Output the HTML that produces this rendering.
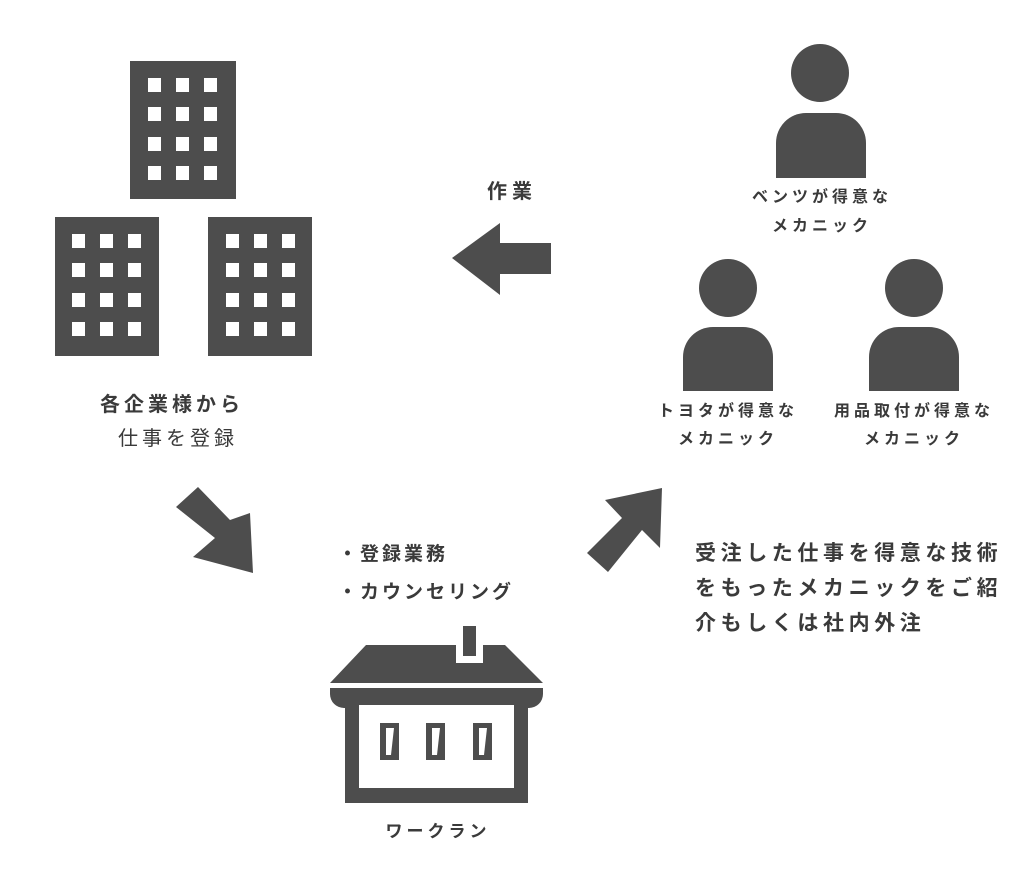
<!DOCTYPE html>
<html><head><meta charset="utf-8"><style>
body{margin:0;width:1030px;height:869px;background:#fff;position:relative;overflow:hidden;font-family:"Liberation Sans","Noto Sans CJK JP",sans-serif;color:#3a3a3a}
.t{position:absolute;white-space:nowrap;font-weight:bold;line-height:1}
.c{transform:translateX(-50%);text-align:center}
</style></head><body>
<svg width="1030" height="869" style="position:absolute;left:0;top:0">
<defs>
<g id="w"><rect fill="#fff" x="0" y="0" width="13" height="14"/><rect fill="#fff" x="28" y="0" width="13" height="14"/><rect fill="#fff" x="56" y="0" width="13" height="14"/>
<rect fill="#fff" x="0" y="29" width="13" height="14"/><rect fill="#fff" x="28" y="29" width="13" height="14"/><rect fill="#fff" x="56" y="29" width="13" height="14"/>
<rect fill="#fff" x="0" y="59" width="13" height="14"/><rect fill="#fff" x="28" y="59" width="13" height="14"/><rect fill="#fff" x="56" y="59" width="13" height="14"/>
<rect fill="#fff" x="0" y="88" width="13" height="14"/><rect fill="#fff" x="28" y="88" width="13" height="14"/><rect fill="#fff" x="56" y="88" width="13" height="14"/></g>
</defs>
<g fill="#4d4d4d">
<rect x="130" y="61" width="106" height="138"/>
<rect x="55" y="217" width="104" height="139"/>
<rect x="208" y="217" width="104" height="139"/>
</g>
<use href="#w" x="148" y="78"/>
<use href="#w" x="72" y="234"/>
<use href="#w" x="226" y="234"/>
<g fill="#4d4d4d">
<polygon points="452,258 500,223 500,243 551,243 551,274 500,274 500,295"/>
<polygon points="176,507 198,487 230,520 250,513 253,573 193,557 215,538"/>
<polygon points="605,500 662,488 660,548 642,530 608,572 587,553 622,518"/>
<circle cx="820" cy="73" r="29"/>
<path d="M776,178 V143 a30,30 0 0 1 30,-30 h30 a30,30 0 0 1 30,30 V178 z"/>
<circle cx="728" cy="288" r="29"/>
<path d="M683,391 V357 a30,30 0 0 1 30,-30 h30 a30,30 0 0 1 30,30 V391 z"/>
<circle cx="914" cy="288" r="29"/>
<path d="M869,391 V357 a30,30 0 0 1 30,-30 h30 a30,30 0 0 1 30,30 V391 z"/>
<polygon points="366,645 505,645 543,683 330,683"/>
<path d="M330,688 h213 v6 a14,14 0 0 1 -14,14 h-1 v95 h-183 v-95 h-1 a14,14 0 0 1 -14,-14 z"/>
</g>
<rect x="456" y="644" width="27" height="19" fill="#fff"/>
<rect x="463" y="626" width="13" height="30" fill="#4d4d4d"/>
<rect x="359" y="705" width="155" height="83" fill="#fff"/>
<g fill="#4d4d4d">
<rect x="380" y="723" width="19" height="37"/><rect x="426" y="723" width="19" height="37"/><rect x="473" y="723" width="19" height="37"/>
</g>
<g fill="#fff">
<polygon points="386,728 394,728 391,755 386,755"/>
<polygon points="432,728 440,728 437,755 432,755"/>
<polygon points="479,728 487,728 484,755 479,755"/>
</g>
</svg>
<div class="t c" style="left:512px;top:182px;font-size:20px;letter-spacing:5px">作業</div>
<div class="t" style="left:100px;top:395px;font-size:20px;letter-spacing:4px">各企業様から</div>
<div class="t" style="left:118px;top:429px;font-size:20px;letter-spacing:4px;font-weight:normal">仕事を登録</div>
<div class="t c" style="left:822px;top:190px;font-size:16px;letter-spacing:4px">ベンツが得意な</div>
<div class="t c" style="left:822px;top:219px;font-size:16px;letter-spacing:4px">メカニック</div>
<div class="t c" style="left:728px;top:404px;font-size:16px;letter-spacing:4px">トヨタが得意な</div>
<div class="t c" style="left:728px;top:432px;font-size:16px;letter-spacing:4px">メカニック</div>
<div class="t c" style="left:914px;top:404px;font-size:16px;letter-spacing:4px">用品取付が得意な</div>
<div class="t c" style="left:914px;top:432px;font-size:16px;letter-spacing:4px">メカニック</div>
<div class="t" style="left:338px;top:545px;font-size:19px;letter-spacing:3px">・登録業務</div>
<div class="t" style="left:338px;top:583px;font-size:19px;letter-spacing:3px">・カウンセリング</div>
<div class="t" style="left:695px;top:543px;font-size:21px;letter-spacing:4.6px">受注した仕事を得意な技術</div>
<div class="t" style="left:695px;top:578px;font-size:21px;letter-spacing:4.6px">をもったメカニックをご紹</div>
<div class="t" style="left:695px;top:613px;font-size:21px;letter-spacing:4.6px">介もしくは社内外注</div>
<div class="t c" style="left:438px;top:823px;font-size:17px;letter-spacing:4px">ワークラン</div>
</body></html>
